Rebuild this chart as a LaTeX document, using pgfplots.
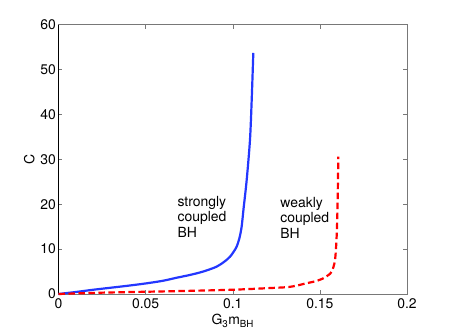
\documentclass[border=0pt]{standalone}
\usepackage{fontspec}
\setmainfont{TeX Gyre Heros}
\usepackage{pgfplots}
\pgfplotsset{compat=1.18}

\definecolor{mblue}{RGB}{35,55,255}
\definecolor{mred}{RGB}{255,0,0}
\definecolor{axgray}{RGB}{120,120,120}

\begin{document}
\begin{tikzpicture}
\begin{axis}[
    scale only axis,
    width=348.5bp, height=269.3bp,
    xmin=0, xmax=0.2, ymin=0, ymax=60,
    xtick={0,0.05,0.1,0.15,0.2},
    xticklabels={0,0.05,0.1,0.15,0.2},
    ytick={0,10,20,30,40,50,60},
    tick align=inside,
    major tick length=4bp,
    axis line style={axgray, line width=0.8pt},
    every tick/.style={axgray, line width=0.5pt},
    tick label style={font=\fontsize{14}{16}\selectfont},
    label style={font=\fontsize{14}{16}\selectfont},
    /pgf/number format/assume math mode=true,
    xlabel={G\textsubscript{3}m\textsubscript{BH}},
    ylabel={C},
    xlabel style={yshift=1bp},
    ylabel style={yshift=-1bp},
    xticklabel style={yshift=-1bp},
    yticklabel style={xshift=1bp},
    clip=false,
]
\coordinate (sw) at (rel axis cs:0,0);
\coordinate (ne) at (rel axis cs:1,1);
\draw[black, line width=0.8pt] (rel axis cs:0,0) -- (rel axis cs:0,1);

\addplot[mblue, line width=2.2bp, smooth, tension=0.5] coordinates {
(0,0) (0.01,0.45) (0.02,0.95) (0.03,1.4) (0.04,1.85) (0.05,2.35)
(0.06,2.95) (0.0675,3.6) (0.0755,4.25) (0.083,5.0) (0.0908,6.1)
(0.0955,7.3) (0.0984,8.3) (0.1005,9.4) (0.1023,10.6) (0.1038,12.4)
(0.1051,15.0) (0.1062,19.0) (0.108,25.4) (0.1099,34.4) (0.1109,43.5) (0.1118,53.7)
};

\addplot[mred, line width=2.2bp, dash pattern=on 6.5bp off 3.5bp, smooth, tension=0.5] coordinates {
(0,0) (0.025,0.3) (0.05,0.5) (0.075,0.7) (0.1,0.95) (0.12,1.3)
(0.1329,1.6) (0.1424,2.4) (0.148,2.9) (0.152,3.5) (0.1548,4.2) (0.1568,5.0)
(0.1587,7.6) (0.1597,13.5) (0.1602,21) (0.1606,30.6)
};

\node[anchor=west, align=left, font=\fontsize{14}{15.7}\selectfont]
  at (axis cs:0.0663,17.2) {strongly\\coupled\\BH};
\node[anchor=west, align=left, font=\fontsize{14}{15.7}\selectfont]
  at (axis cs:0.1253,17.0) {weakly\\coupled\\BH};
\end{axis}
\pgfresetboundingbox
\useasboundingbox ([shift={(-58.5bp,-41bp)}]sw) rectangle ([shift={(43bp,24.7bp)}]ne);
\end{tikzpicture}
\end{document}
